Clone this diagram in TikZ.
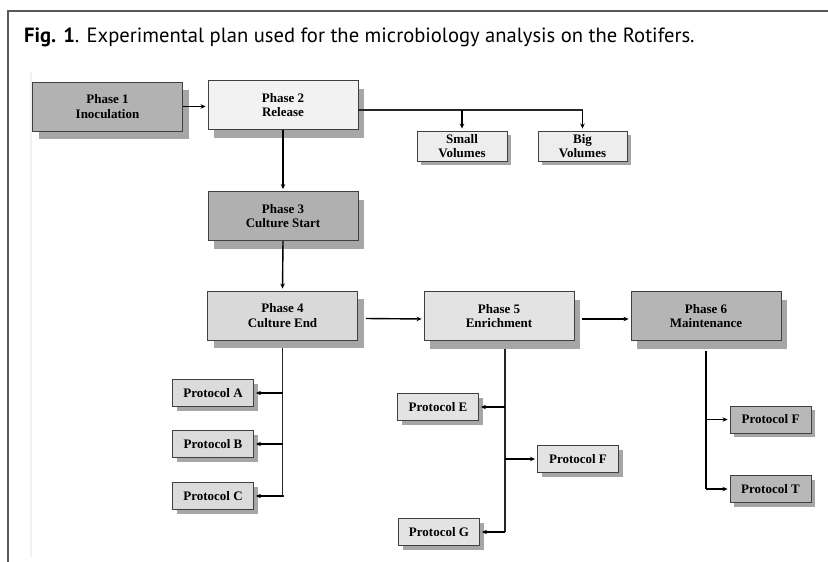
\documentclass[tikz,border=0pt]{standalone}
\usepackage{fontspec}
\setmainfont{Liberation Serif}
\newfontfamily\capfont{PT Sans}
\usetikzlibrary{arrows.meta,shadows}

\begin{document}
\begin{tikzpicture}[x=1pt, y=-1pt,
    box/.style={draw=black!75, line width=0.9pt, align=center,
      font=\fontsize{13}{14.5}\selectfont\bfseries},
    phase/.style={box, minimum width=150pt, minimum height=49pt,
      drop shadow={shadow xshift=6pt, shadow yshift=-8pt, fill=black!35, opacity=1}},
    proto/.style={box, minimum width=81pt, minimum height=27pt, inner sep=1pt,
      drop shadow={shadow xshift=4pt, shadow yshift=-4pt, fill=black!35, opacity=1}},
    link/.style={line width=1.4pt, shorten >=2pt, -{Stealth[length=5pt, width=4.5pt]}},
    trunk/.style={line width=1.2pt, black!85}]
\useasboundingbox (0,0) rectangle (828,562);
% frame and caption
\draw[black!65, line width=1.2pt] (828,11) -- (8,11) -- (8,562);
\draw[black!5, line width=1.5pt] (31,72) -- (31,557);
\node[anchor=base west, inner sep=0pt, font=\capfont\fontsize{20.6}{24}\selectfont] (cap) at (24,42)
  {\textbf{Fig. 1}. Experimental plan used for the microbiology analysis on the Rotifers.};

% phases
\node[phase, fill=black!30] (p1) at (107.5,106.5) {Phase 1\\Inoculation};
\node[phase, fill=black!5]  (p2) at (283,105) {Phase 2\\Release};
\node[phase, fill=black!31] (p3) at (283,216) {Phase 3\\Culture Start};
\node[phase, fill=black!15] (p4) at (282.5,315.5) {Phase 4\\Culture End};
\node[phase, fill=black!11] (p5) at (499,316) {Phase 5\\Enrichment};
\node[phase, fill=black!29] (p6) at (706,316) {Phase 6\\Maintenance};

% volumes
\node[proto, fill=black!7, minimum width=90pt, minimum height=30pt] (sv) at (462,146) {Small\\Volumes};
\node[proto, fill=black!7, minimum width=89pt, minimum height=30pt] (bv) at (582.5,146) {Big\\Volumes};

% protocols
\foreach \n/\l/\x/\y/\c in {pa/A/213/393/14, pb/B/213/444/14, pc/C/213/496/14,
    pe/E/438/407/11, pf/F/578/459/11, pg/G/439/532/11,
    pff/F/770.5/419.5/28, pt/T/770.5/489/28}
  \node[proto, fill=black!\c] (\n) at (\x,\y) {Protocol \l};

% connectors
\draw[link] (p1.east) -- (p1.east -| p2.west);
\coordinate (vj) at (582.5,110);
\draw[trunk] ([yshift=-5pt]p2.east) -- (vj);
\draw[link] (sv.north |- vj) -- (sv.north);
\draw[link] (vj) -- (bv.north);
\draw[link] (p2.south) -- (p3.north);
\draw[link] (p3.south) -- (p4.north);
\draw[link] ([xshift=8pt, yshift=-3pt]p4.east) -- ([yshift=-3pt]p5.west);
\draw[link] ([xshift=8pt, yshift=-3pt]p5.east) -- ([yshift=-3pt]p6.west);

\draw[trunk] ([yshift=-8pt]p4.south) |- ([xshift=30pt]pc.east);
\foreach \n in {pa,pb,pc}
  \draw[link] (p4.south |- \n.east) -- (\n.east);

\coordinate (t5) at ([xshift=6pt, yshift=-8pt]p5.south);
\draw[trunk] (t5) -- (t5 |- pg.east);
\foreach \n in {pe,pg}
  \draw[link] (t5 |- \n.east) -- (\n.east);
\draw[link] (t5 |- pf.west) -- (pf.west);

\draw[trunk, line width=2pt, black] ([yshift=-10pt]p6.south) -- (p6.south |- pt.west);
\foreach \n in {pff,pt}
  \draw[link] (p6.south |- \n.west) -- (\n.west);
\end{tikzpicture}
\end{document}
